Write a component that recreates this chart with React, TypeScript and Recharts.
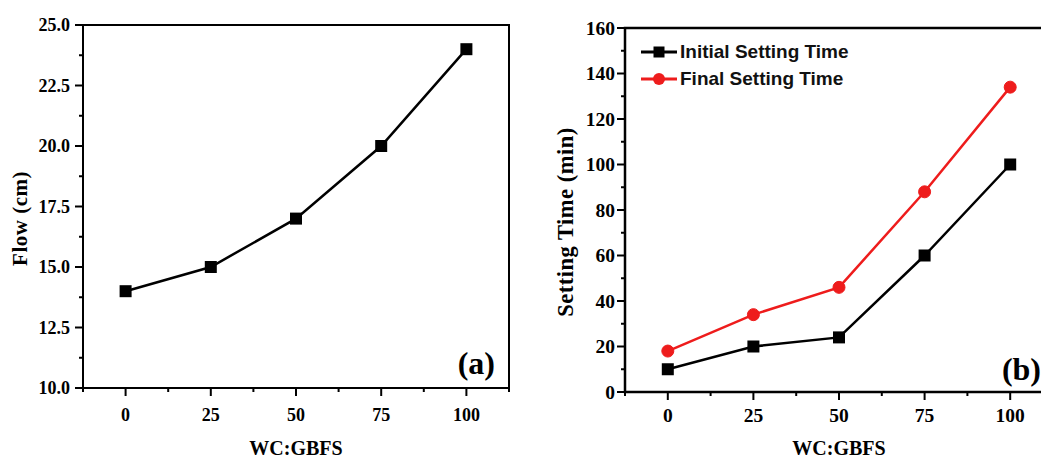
import React from 'react';
import { LineChart, Line, XAxis, YAxis, ReferenceArea, Legend } from 'recharts';

// values
const wcGbfs = [0, 25, 50, 75, 100];
const flowCm = [14, 15, 17, 20, 24];
const initialSettingMin = [10, 20, 24, 60, 100];
const finalSettingMin = [18, 34, 46, 88, 134];

// axis ticks (major + minor)
const xTicks = [-12.5, 0, 12.5, 25, 37.5, 50, 62.5, 75, 87.5, 100, 112.5];
const flowTicks = [10, 11.25, 12.5, 13.75, 15, 16.25, 17.5, 18.75, 20, 21.25, 22.5, 23.75, 25];
const settingTicks = [0, 10, 20, 30, 40, 50, 60, 70, 80, 90, 100, 110, 120, 130, 140, 150, 160];
const legendOrder = ['initial', 'final'];

const flowData = wcGbfs.map((x, i) => ({ x, flow: flowCm[i] }));
const settingData = wcGbfs.map((x, i) => ({
  x,
  initial: initialSettingMin[i],
  final: finalSettingMin[i],
}));

const SERIF = '"Liberation Serif", "Times New Roman", serif';
const SANS = '"Liberation Sans", Arial, sans-serif';
const RED = '#ee1c1c';
const AXIS = { stroke: '#000', strokeWidth: 2 };

const isMajor = (v: number, step: number) => Math.abs(v / step - Math.round(v / step)) < 1e-9;

const makeXTick = (fontSize: number, gap: number) => (props: any) => {
  const { x, y, payload } = props;
  const major = isMajor(payload.value, 25);
  return (
    <g>
      <line x1={x} x2={x} y1={y} y2={y + (major ? 8 : 4)} stroke="#000" strokeWidth={2} />
      {major && (
        <text x={x} y={y + gap} textAnchor="middle" dominantBaseline="central"
          fontFamily={SERIF} fontWeight="bold" fontSize={fontSize} fill="#000">
          {payload.value}
        </text>
      )}
    </g>
  );
};

const makeYTick = (step: number, digits: number, fontSize: number, gap: number) => (props: any) => {
  const { x, y, payload } = props;
  const major = isMajor(payload.value, step);
  return (
    <g>
      <line x1={x} x2={x - (major ? 8 : 4)} y1={y} y2={y} stroke="#000" strokeWidth={2} />
      {major && (
        <text x={x - gap} y={y} textAnchor="end" dominantBaseline="central"
          fontFamily={SERIF} fontWeight="bold" fontSize={fontSize} fill="#000">
          {payload.value.toFixed(digits)}
        </text>
      )}
    </g>
  );
};

const xTitle = (text: string, dy: number) => (props: any) => {
  const vb = props.viewBox;
  return (
    <text x={vb.x + vb.width / 2} y={vb.y + dy} textAnchor="middle" dominantBaseline="central"
      fontFamily={SERIF} fontWeight="bold" fontSize={20} fill="#000">
      {text}
    </text>
  );
};

const yTitle = (text: string, dx: number, fontSize: number) => (props: any) => {
  const vb = props.viewBox;
  const cx = vb.x + dx;
  const cy = vb.y + vb.height / 2 + 12;
  return (
    <text x={cx} y={cy} transform={`rotate(-90, ${cx}, ${cy})`} textAnchor="middle"
      dominantBaseline="central" fontFamily={SERIF} fontWeight="bold" fontSize={fontSize}
      letterSpacing={0.5} fill="#000">
      {text}
    </text>
  );
};

const SquareDot = (props: any) => {
  const { cx, cy, index } = props;
  return <rect key={`sq-${index}`} x={cx - 6} y={cy - 6} width={12} height={12} fill="#000" />;
};

const SettingLegend = (props: any) => {
  const items = [...(props.payload || [])].sort(
    (a: any, b: any) => legendOrder.indexOf(a.dataKey) - legendOrder.indexOf(b.dataKey)
  );
  return (
    <div style={{ display: 'flex', flexDirection: 'column' }}>
      {items.map((entry: any) => (
        <div key={entry.value} style={{ display: 'flex', alignItems: 'center', height: 27 }}>
          <svg width={36} height={14}>
            <line x1={0} x2={36} y1={7} y2={7} stroke={entry.color} strokeWidth={3} />
            {entry.dataKey === 'initial'
              ? <rect x={12.5} y={1.5} width={11} height={11} fill={entry.color} />
              : <circle cx={18} cy={7} r={6} fill={entry.color} />}
          </svg>
          <span style={{ marginLeft: 3, fontFamily: SANS, fontWeight: 'bold', fontSize: 19, color: '#111', whiteSpace: 'nowrap' }}>
            {entry.value}
          </span>
        </div>
      ))}
    </div>
  );
};

export default function App() {
  return (
    <div style={{ position: 'absolute', left: 0, top: 0, width: 1041, height: 459, overflow: 'hidden', background: '#fff' }}>
      <div style={{ position: 'absolute', left: 0, top: 0 }}>
        <LineChart width={520} height={459} data={flowData} margin={{ top: 25, right: 11, bottom: 0, left: 0 }}>
          <XAxis dataKey="x" type="number" domain={[-12.5, 112.5]} ticks={xTicks} interval={0}
            height={71} axisLine={AXIS} tickLine={false} tickSize={0} tickMargin={0}
            tick={makeXTick(18, 27)} label={{ content: xTitle('WC:GBFS', 60) }} />
          <YAxis type="number" domain={[10, 25]} ticks={flowTicks} interval={0}
            width={83} axisLine={AXIS} tickLine={false} tickSize={0} tickMargin={0}
            tick={makeYTick(2.5, 1, 18, 13)} label={{ content: yTitle('Flow (cm)', 20, 21) }} />
          <ReferenceArea x1={-12.5} x2={112.5} y1={10} y2={25} fill="none" stroke="#000" strokeWidth={2}
            label={{ value: '(a)', position: 'insideBottomRight', offset: 14, fontFamily: SERIF, fontWeight: 'bold', fontSize: 32, fill: '#000' }} />
          <Line type="linear" dataKey="flow" stroke="#000" strokeWidth={2.5} dot={SquareDot}
            activeDot={false} isAnimationActive={false} />
        </LineChart>
      </div>
      <div style={{ position: 'absolute', left: 520, top: 0 }}>
        <LineChart width={545} height={459} data={settingData} margin={{ top: 28, right: 12, bottom: 0, left: 0 }}>
          <XAxis dataKey="x" type="number" domain={[-12.5, 112.5]} ticks={xTicks} interval={0}
            height={67} axisLine={AXIS} tickLine={false} tickSize={0} tickMargin={0}
            tick={makeXTick(19.5, 23)} label={{ content: xTitle('WC:GBFS', 56) }} />
          <YAxis type="number" domain={[0, 160]} ticks={settingTicks} interval={0}
            width={105} axisLine={AXIS} tickLine={false} tickSize={0} tickMargin={0}
            tick={makeYTick(20, 0, 19.5, 10)} label={{ content: yTitle('Setting Time (min)', 45, 22.5) }} />
          <ReferenceArea x1={-12.5} x2={112.5} y1={0} y2={160} fill="none" stroke="#000" strokeWidth={2.5}
            label={{ value: '(b)', position: 'insideBottomRight', offset: 12, fontFamily: SERIF, fontWeight: 'bold', fontSize: 32, fill: '#000' }} />
          <Legend content={SettingLegend} layout="vertical" align="center" verticalAlign="middle"
            wrapperStyle={{ left: 121, top: 38, width: 'auto' }} />
          <Line type="linear" dataKey="initial" name="Initial Setting Time" stroke="#000" strokeWidth={2.5}
            dot={SquareDot} activeDot={false} isAnimationActive={false} />
          <Line type="linear" dataKey="final" name="Final Setting Time" stroke={RED} strokeWidth={2.5}
            dot={{ r: 6, fill: RED, stroke: RED, strokeWidth: 1 }} activeDot={false} isAnimationActive={false} />
        </LineChart>
      </div>
    </div>
  );
}
